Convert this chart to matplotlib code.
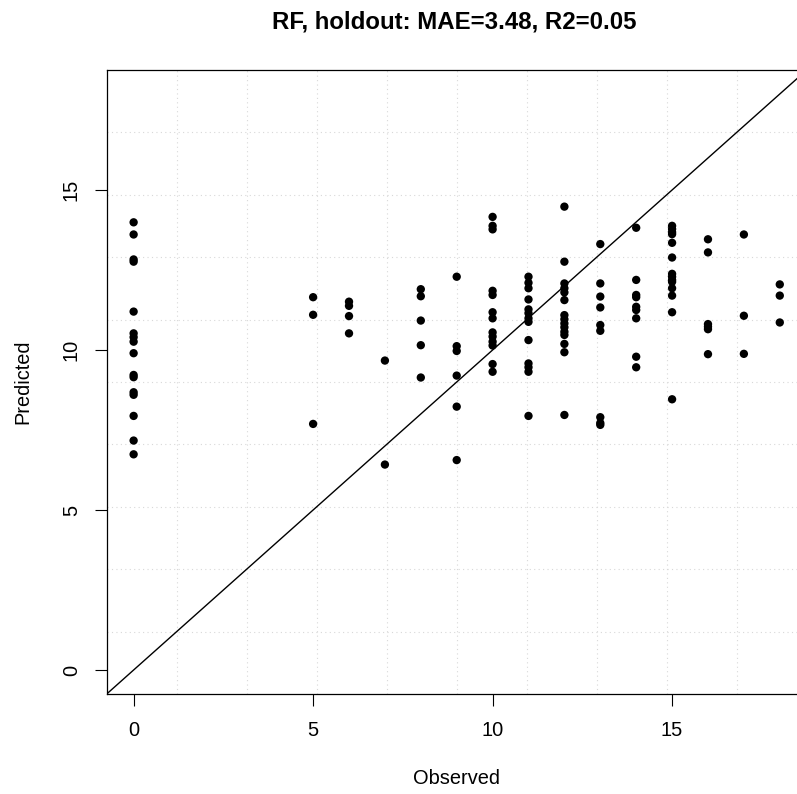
import numpy as np
import matplotlib
matplotlib.use("Agg")
import matplotlib.pyplot as plt

plt.rcParams['font.family'] = ['Liberation Sans', 'DejaVu Sans']

obs_levels = [0, 5, 6, 7, 8, 9, 10, 11, 12, 13, 14, 15, 16, 17, 18]
pred_groups = [
    [13.99, 13.61, 12.83, 12.76, 11.20, 10.52, 10.40, 10.26, 9.90, 9.22, 9.15, 8.68, 8.60, 7.94, 7.17, 6.74],
    [11.65, 11.10, 7.69],
    [11.51, 11.38, 11.06, 10.52],
    [9.67, 6.42],
    [11.90, 11.68, 10.92, 10.15, 9.14],
    [12.29, 10.12, 9.97, 9.20, 8.23, 6.56],
    [14.16, 13.88, 13.77, 11.85, 11.72, 11.18, 10.99, 10.55, 10.42, 10.26, 10.14, 9.56, 9.32],
    [12.29, 12.10, 11.93, 11.58, 11.27, 11.15, 10.99, 10.88, 10.31, 9.58, 9.46, 9.32, 7.94],
    [14.48, 12.76, 12.08, 11.93, 11.80, 11.56, 11.09, 10.96, 10.83, 10.71, 10.57, 10.47, 10.19, 9.93, 7.97],
    [13.31, 12.08, 11.67, 11.33, 10.78, 10.60, 7.90, 7.72, 7.66],
    [13.82, 12.19, 11.72, 11.65, 11.35, 11.25, 10.99, 9.79, 9.46],
    [13.88, 13.78, 13.68, 13.62, 13.35, 12.89, 12.38, 12.29, 12.19, 12.13, 11.93, 11.70, 11.18, 8.46],
    [13.46, 13.05, 10.81, 10.73, 10.65, 9.87],
    [13.61, 11.07, 9.88],
    [12.05, 11.70, 10.86],
]
title = "RF, holdout: MAE=3.48, R2=0.05"
lims = (-0.75, 18.75)

observed = []
predicted = []
for o, g in zip(obs_levels, pred_groups):
    observed += [o] * len(g)
    predicted += g

fig = plt.figure(figsize=(7.97, 7.94), dpi=100)
# plot region runs past the right edge of the image, as in the original
ax = fig.add_axes([106.7 / 797, 100 / 794, 700 / 797, 624 / 794])
ax.set_xlim(lims)
ax.set_ylim(lims)

# grid(10, 10) style: equal divisions of the plot region
gpos = np.linspace(lims[0], lims[1], 11)[1:-1]
for g in gpos:
    ax.axvline(g, color='#d8d8d8', lw=0.8, ls=(0, (1, 3)), zorder=0)
    ax.axhline(g, color='#d8d8d8', lw=0.8, ls=(0, (1, 3)), zorder=0)

ax.plot(lims, lims, color='black', lw=1.0, zorder=2)
ax.scatter(observed, predicted, s=36, color='black', edgecolors='none', zorder=3)

ax.set_xticks([0, 5, 10, 15])
ax.set_yticks([0, 5, 10, 15])
ax.tick_params(length=8.6, width=0.8, labelsize=14.4)
ax.tick_params(axis='x', pad=11)
ax.tick_params(axis='y', pad=10)
for lab in ax.get_yticklabels():
    lab.set_rotation(90)
    lab.set_va('center')
for s in ax.spines.values():
    s.set_linewidth(0.9)

ax.set_xlabel("Observed", fontsize=14.4, labelpad=21)
ax.set_ylabel("Predicted", fontsize=14.4, labelpad=21)
fig.text(454 / 797, 1 - 22 / 794, title, ha='center', va='center',
         fontsize=17.3, fontweight='bold')

fig.savefig("out.png", dpi=100)
